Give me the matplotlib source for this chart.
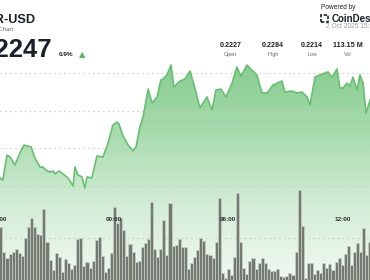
import numpy as np
import matplotlib
matplotlib.use("Agg")
import matplotlib.pyplot as plt
from matplotlib.colors import LinearSegmentedColormap
from matplotlib.patches import Rectangle

# price line, minutes since 18:00 the day before
t_line = [3, 12, 25, 35, 50, 66, 79, 88, 101, 113, 129, 138, 151, 160, 170, 176, 189, 201, 217, 233,
          239, 248, 261, 270, 277, 292, 308, 327, 343, 358, 371, 377, 390, 406, 421, 431, 443, 453, 469, 481,
          497, 509, 516, 528, 541, 550, 569, 585, 601, 616, 632, 654, 670, 682, 698, 714, 733, 748, 761, 780,
          795, 811, 827, 843, 862, 890, 899, 921, 937, 953, 969, 978, 994, 1016, 1035, 1047, 1063, 1072, 1082, 1094,
          1104, 1113, 1126, 1135, 1145, 1154, 1167]
price = [0.22050, 0.22037, 0.22203, 0.22190, 0.22137, 0.22217, 0.22270, 0.22263, 0.22257, 0.22183,
         0.22123, 0.22123, 0.22097, 0.22090, 0.22097, 0.22077, 0.22097, 0.22077, 0.22050, 0.21997,
         0.22123, 0.22070, 0.22057, 0.21983, 0.22057, 0.22050, 0.22197, 0.22190, 0.22283, 0.22403,
         0.22423, 0.22410, 0.22330, 0.22270, 0.22230, 0.22257, 0.22390, 0.22457, 0.22643, 0.22550,
         0.22590, 0.22703, 0.22710, 0.22737, 0.22803, 0.22657, 0.22697, 0.22710, 0.22763, 0.22650,
         0.22517, 0.22590, 0.22503, 0.22637, 0.22643, 0.22590, 0.22683, 0.22790, 0.22730, 0.22803,
         0.22770, 0.22737, 0.22617, 0.22617, 0.22670, 0.22697, 0.22623, 0.22630, 0.22617, 0.22623,
         0.22590, 0.22537, 0.22723, 0.22743, 0.22757, 0.22720, 0.22777, 0.22650, 0.22650, 0.22683,
         0.22663, 0.22723, 0.22637, 0.22737, 0.22683, 0.22483, 0.22570]

# volume bars (M), one per bar slot left to right
vol = [2.12, 1.12, 0.88, 1.04, 1.12, 1.24, 1.08, 0.96, 1.68, 2.12, 2.48, 2.12, 1.84, 1.80, 2.84, 1.52,
       0.80, 0.40, 1.08, 0.92, 0.32, 0.84, 0.68, 0.44, 0.60, 1.64, 1.68, 0.56, 0.72, 0.48, 0.76, 1.60,
       1.72, 0.96, 0.32, 0.48, 1.08, 2.92, 2.28, 2.48, 2.00, 0.96, 1.44, 1.12, 0.72, 0.76, 1.32, 1.48,
       1.64, 3.12, 1.24, 0.92, 1.24, 2.40, 1.00, 3.08, 1.36, 1.40, 1.64, 1.32,
       1.32, 0.44, 0.68, 0.92, 1.20, 1.68, 1.56, 1.04, 1.00, 0.88, 1.52, 3.28, 0.28, 0.08, 0.44, 0.20,
       0.92, 3.48, 1.52, 0.48, 0.24, 0.76, 0.88, 0.44, 0.68, 0.88, 0.68, 0.44, 0.36, 0.36, 0.44, 0.16,
       0.12, 0.16, 0.28, 0.20, 1.12, 3.60, 2.16, 0.08, 0.68, 0.68, 0.24, 0.40, 0.28, 0.68, 0.48, 0.64,
       0.40, 0.72, 0.88, 0.60, 1.04, 1.36, 0.60, 1.12, 1.48, 1.12, 2.08, 1.00, 1.52]

tick_min = [0, 360, 720, 1080]
tick_lab = ["18:00", "00:00", "06:00", "12:00"]
grid_prices = [0.2200, 0.2225, 0.2250, 0.2275]

stat_val = ["0.2227", "0.2284", "0.2214", "113.15 M"]
stat_lab = ["Open", "High", "Low", "Vol"]

W, H = 370, 280
def fx(x):
    return x / W
def fy(y):
    return 1 - y / H

FONT = "Liberation Sans"
fig = plt.figure(figsize=(3.7, 2.8), dpi=100)
fig.patch.set_facecolor("white")

x0, x1 = 3.1, 1166.7
p_top, p_bot = 0.232367, 0.2137
vmax = 11.2
s0, s1 = -0.283, 120.04

# bottom axes: volume slots; also holds the gradient image
axv = fig.add_axes([0, 0, 1, 1])
axv.set_xlim(s0, s1)
axv.set_ylim(0, vmax)
axv.axis("off")

# top axes: time vs price
ax = fig.add_axes([0, 0, 1, 1])
ax.set_xlim(x0, x1)
ax.set_ylim(p_bot, p_top)
ax.axis("off")
ax.patch.set_alpha(0)

cmap = LinearSegmentedColormap.from_list("g", ["#f1f9f2", "#d4edd7", "#a8dbae", "#84cc8d"])
grad = np.linspace(0, 1, 256).reshape(-1, 1)
img = axv.imshow(grad, extent=[s0, s1, 0, vmax * 220 / 280], origin="lower",
                 aspect="auto", cmap=cmap, zorder=0)
poly = ax.fill_between(t_line, price, p_bot, color="none")
img.set_clip_path(poly.get_paths()[0], transform=ax.transData)

for gp in grid_prices:
    ax.axhline(gp, color="#c6c6c6", lw=0.8, ls=(0, (1.2, 3.2)), zorder=1)
axv.axhline(1.68, color="#c6c6c6", lw=0.8, ls=(0, (1.2, 3.2)), zorder=1)

axv.bar(range(len(vol)), vol, width=1.0, color="#737a72", edgecolor="#c9d1c7",
        linewidth=0.5, zorder=2)

ax.plot(t_line, price, color="#66c070", lw=1.2, zorder=3)

for tm, lab in zip(tick_min, tick_lab):
    ax.text(tm, p_top - (p_top - p_bot) * 219 / 280, lab, ha="center", va="center",
            fontsize=4.6, fontweight="bold", color="#2b2f36", family=FONT, zorder=4)

# header
fig.text(fx(35.5), fy(23), "HBAR-USD", ha="right", va="baseline", fontsize=9.2,
         fontweight="bold", color="#1c2028", family=FONT)
fig.text(fx(13.5), fy(30.5), "Price Chart", ha="right", va="baseline", fontsize=4.3,
         color="#666a70", family=FONT)
fig.text(fx(52), fy(57), "0.2247", ha="right", va="baseline", fontsize=18.5,
         fontweight="bold", color="#1c2028", family=FONT)
fig.text(fx(59), fy(56), "0.9%", ha="left", va="baseline", fontsize=4.6,
         fontweight="bold", color="#1c2028", family=FONT)
fig.text(fx(82.5), fy(57), "\u25B2", ha="center", va="baseline", fontsize=6, color="#4cb860")

fig.text(fx(321), fy(9), "Powered by", ha="left", va="baseline", fontsize=4.7,
         color="#1c2028", family=FONT)
fig.patches.append(Rectangle((fx(321), fy(22)), 7 / W, 7 / H, transform=fig.transFigure,
                             fill=False, ec="#1c2028", lw=1.2, ls=(0, (2, 1))))
fig.text(fx(331.5), fy(22), "CoinDesk", ha="left", va="baseline", fontsize=7,
         fontweight="bold", color="#1c2028", family=FONT)
fig.text(fx(326), fy(27.5), "2 Oct 2025 15:30", ha="left", va="baseline", fontsize=4.8,
         color="#9a9ea4", family=FONT)

stat_x = [230.5, 273, 312, 347.5]
for sx, sv, sl in zip(stat_x, stat_val, stat_lab):
    fig.text(fx(sx), fy(47), sv, ha="center", va="baseline", fontsize=5.1,
             fontweight="bold", color="#1c2028", family=FONT)
    fig.text(fx(sx), fy(56), sl, ha="center", va="baseline", fontsize=3.9,
             color="#666a70", family=FONT)

fig.savefig("out.png", dpi=100)
